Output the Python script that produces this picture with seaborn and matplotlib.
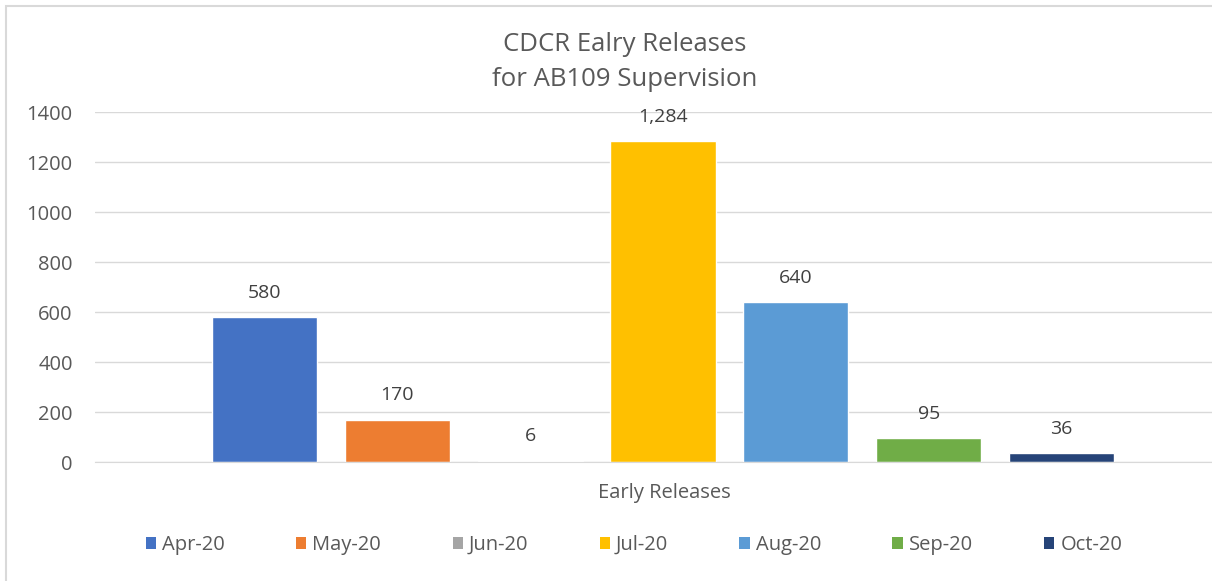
import pandas as pd
import numpy as np
import seaborn as sns
import matplotlib.pyplot as plt
from matplotlib.patches import Rectangle, Patch

months = ['Apr-20', 'May-20', 'Jun-20', 'Jul-20', 'Aug-20', 'Sep-20', 'Oct-20']
releases = [580, 170, 6, 1284, 640, 95, 36]
colors = ['#4472C4', '#ED7D31', '#A5A5A5', '#FFC000', '#5B9BD5', '#70AD47', '#264478']

df = pd.DataFrame({'group': 'Early Releases', 'month': months, 'releases': releases})

sns.set_style('white')
plt.rcParams['font.family'] = ['Open Sans', 'DejaVu Sans']
txt = '#595959'

fig = plt.figure(figsize=(12.12, 5.81), dpi=100)
# axes runs off the right edge, as in the cropped screenshot
ax = fig.add_axes([95 / 1212, 1 - 462 / 581, 1136 / 1212, 350 / 581])

sns.barplot(data=df, x='group', y='releases', hue='month', palette=colors,
            width=0.819, gap=0.21, ax=ax, legend=False, saturation=1)
ax.set_xlim(-0.5, 0.5)
ax.set_ylim(0, 1400)
ax.set_yticks(range(0, 1401, 200))
ax.yaxis.grid(True, color='#d9d9d9', linewidth=1)
ax.set_axisbelow(True)
for s in ax.spines.values():
    s.set_visible(False)
ax.spines['bottom'].set_visible(True)
ax.spines['bottom'].set_color('#d9d9d9')
ax.tick_params(axis='y', length=0, labelsize=14.5, labelcolor=txt, pad=16)
ax.set_xticks([])
ax.set_ylabel('')
ax.set_xlabel('')

for cont in ax.containers:
    ax.bar_label(cont, labels=[f'{v:,.0f}' for v in cont.datavalues],
                 padding=11, fontsize=14, color='#404040')

fig.text(664 / 1212, 1 - 493 / 581, 'Early Releases', ha='center', va='center',
         fontsize=14.5, color=txt)
fig.text(625 / 1212, 1 - 62 / 581, 'CDCR Ealry Releases\nfor AB109 Supervision',
         ha='center', va='center', fontsize=18.5, color=txt, linespacing=1.5)

handles = [Patch(facecolor=c, edgecolor='none') for c in colors]
fig.legend(handles, months, loc='center', bbox_to_anchor=(634 / 1212, 1 - 545 / 581),
           ncol=7, frameon=False, fontsize=14.5, labelcolor=txt,
           handlelength=0.5, handleheight=0.5, handletextpad=0.3, columnspacing=3.55)

fig.patches.append(Rectangle((6 / 1212, -0.1), 1.2, 1 - 6 / 581 + 0.1,
                             transform=fig.transFigure, fill=False,
                             edgecolor='#d9d9d9', linewidth=1.5))

fig.savefig('out.png', dpi=100)
